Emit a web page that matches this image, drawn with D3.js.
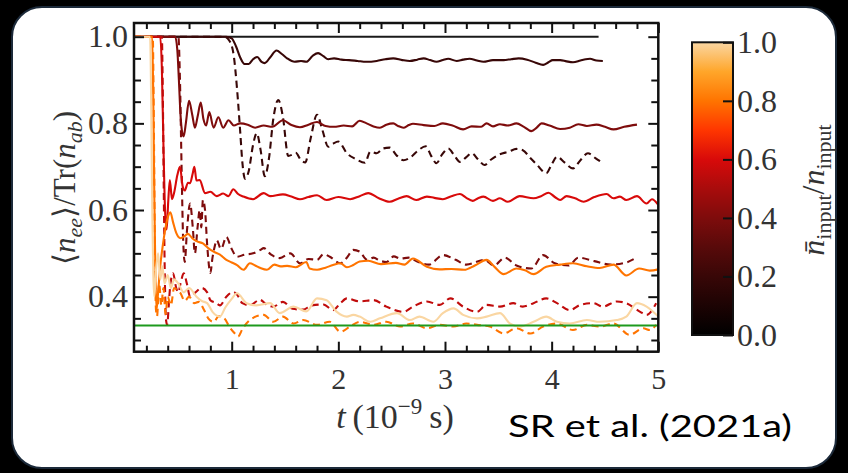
<!DOCTYPE html>
<html>
<head>
<meta charset="utf-8">
<script src="https://cdn.jsdelivr.net/npm/d3@7"></script>
<style>
  html, body { margin: 0; padding: 0; background: #000; }
  svg { display: block; }
</style>
</head>
<body>
<svg id="chart" width="848" height="473"></svg>
<script>
// ---------------------------------------------------------------
// Data: time t (in 1e-9 s) and normalised occupation <n_ee>/Tr(n_ab)
// Each run is labelled by its input ratio (colour-bar value).
// ---------------------------------------------------------------
const ratio0Solid = [[0.084, 1.0], [4.44, 1.0]];

const ratio02Solid = [
  [0.084, 1], [0.95, 1], [1.0, 0.996], [1.04, 0.978], [1.08, 0.952], [1.12, 0.937], [1.16, 0.937],
  [1.2, 0.948], [1.24, 0.953], [1.28, 0.942], [1.31, 0.939], [1.36, 0.952], [1.42, 0.968], [1.47, 0.96],
  [1.52, 0.95], [1.59, 0.942], [1.65, 0.944], [1.7, 0.942], [1.76, 0.956], [1.81, 0.962], [1.86, 0.955],
  [1.905, 0.948], [1.96, 0.95], [2.03, 0.947], [2.1, 0.946], [2.18, 0.944], [2.26, 0.942], [2.36, 0.944],
  [2.44, 0.948], [2.515, 0.95], [2.6, 0.946], [2.67, 0.944], [2.74, 0.947], [2.8, 0.95], [2.86, 0.946],
  [2.92, 0.942], [2.98, 0.946], [3.03, 0.949], [3.11, 0.944], [3.17, 0.947], [3.23, 0.949], [3.3, 0.945],
  [3.36, 0.942], [3.45, 0.946], [3.55, 0.946], [3.62, 0.948], [3.69, 0.95], [3.77, 0.947], [3.85, 0.94],
  [3.92, 0.935], [3.97, 0.941], [4.01, 0.946], [4.08, 0.946], [4.14, 0.943], [4.2, 0.941], [4.27, 0.945],
  [4.32, 0.948], [4.36, 0.949], [4.42, 0.945], [4.48, 0.944]
];

const ratio02Dashed = [
  [0.084, 1], [0.93, 1], [0.98, 0.99], [1.02, 0.955], [1.05, 0.88], [1.08, 0.78], [1.1, 0.71],
  [1.125, 0.672], [1.16, 0.69], [1.2, 0.75], [1.235, 0.777], [1.27, 0.74], [1.31, 0.678], [1.35, 0.72],
  [1.39, 0.81], [1.437, 0.854], [1.48, 0.815], [1.53, 0.725], [1.57, 0.728], [1.6, 0.732], [1.65, 0.715],
  [1.69, 0.71], [1.74, 0.765], [1.8, 0.82], [1.85, 0.785], [1.905, 0.746], [1.95, 0.753], [2.0, 0.758],
  [2.08, 0.731], [2.16, 0.718], [2.25, 0.709], [2.3, 0.735], [2.36, 0.731], [2.42, 0.742], [2.48, 0.744],
  [2.55, 0.725], [2.61, 0.715], [2.68, 0.722], [2.75, 0.738], [2.82, 0.747], [2.87, 0.725], [2.92, 0.708],
  [2.97, 0.727], [3.03, 0.742], [3.09, 0.725], [3.14, 0.711], [3.2, 0.722], [3.25, 0.731], [3.31, 0.717],
  [3.37, 0.704], [3.43, 0.716], [3.5, 0.727], [3.6, 0.735], [3.67, 0.741], [3.73, 0.738], [3.8, 0.72],
  [3.86, 0.705], [3.95, 0.685], [4.0, 0.705], [4.05, 0.723], [4.12, 0.71], [4.2, 0.696], [4.27, 0.715],
  [4.34, 0.731], [4.41, 0.72], [4.48, 0.708]
];

const ratio04Solid = [
  [0.084, 1], [0.47, 1], [0.49, 0.97], [0.505, 0.9], [0.52, 0.82], [0.535, 0.78], [0.55, 0.77],
  [0.57, 0.8], [0.6, 0.852], [0.63, 0.82], [0.655, 0.79], [0.68, 0.815], [0.71, 0.848], [0.735, 0.81],
  [0.76, 0.795], [0.79, 0.826], [0.83, 0.79], [0.875, 0.814], [0.92, 0.79], [0.97, 0.807], [1.02, 0.795],
  [1.08, 0.8], [1.15, 0.797], [1.22, 0.79], [1.3, 0.795], [1.38, 0.792], [1.48, 0.807], [1.56, 0.796],
  [1.64, 0.791], [1.72, 0.797], [1.8, 0.803], [1.88, 0.794], [1.96, 0.792], [2.05, 0.795], [2.13, 0.793],
  [2.2, 0.806], [2.265, 0.8], [2.33, 0.793], [2.39, 0.79], [2.45, 0.797], [2.515, 0.8], [2.56, 0.794],
  [2.61, 0.79], [2.66, 0.796], [2.7, 0.799], [2.8, 0.796], [2.9, 0.794], [2.98, 0.8], [3.07, 0.795],
  [3.17, 0.786], [3.25, 0.793], [3.34, 0.792], [3.39, 0.8], [3.45, 0.793], [3.515, 0.798], [3.59, 0.795],
  [3.67, 0.8], [3.74, 0.792], [3.81, 0.782], [3.86, 0.79], [3.905, 0.8], [3.98, 0.795], [4.08, 0.787],
  [4.17, 0.79], [4.25, 0.798], [4.33, 0.794], [4.42, 0.797], [4.5, 0.792], [4.58, 0.786], [4.68, 0.792],
  [4.8, 0.797]
];

const ratio04Dashed = [
  [0.084, 1], [0.5, 1], [0.515, 0.9], [0.53, 0.7], [0.545, 0.53], [0.56, 0.48], [0.58, 0.55],
  [0.61, 0.615], [0.635, 0.56], [0.655, 0.5], [0.68, 0.56], [0.7, 0.6], [0.715, 0.56], [0.73, 0.623],
  [0.75, 0.6], [0.77, 0.52], [0.8, 0.455], [0.82, 0.49], [0.84, 0.515], [0.86, 0.53], [0.9, 0.51],
  [0.95, 0.538], [1.0, 0.51], [1.05, 0.492], [1.12, 0.497], [1.2, 0.5], [1.27, 0.508], [1.3, 0.512],
  [1.37, 0.497], [1.45, 0.489], [1.55, 0.5], [1.64, 0.477], [1.72, 0.487], [1.8, 0.485], [1.86, 0.498],
  [1.92, 0.492], [2.02, 0.477], [2.08, 0.49], [2.14, 0.508], [2.2, 0.504], [2.27, 0.485], [2.33, 0.49],
  [2.39, 0.483], [2.45, 0.48], [2.52, 0.493], [2.58, 0.488], [2.66, 0.49], [2.75, 0.48], [2.85, 0.474],
  [2.98, 0.496], [3.1, 0.485], [3.2, 0.474], [3.37, 0.485], [3.46, 0.472], [3.56, 0.49], [3.67, 0.472],
  [3.81, 0.465], [3.92, 0.496], [4.03, 0.477], [4.16, 0.472], [4.25, 0.49], [4.4, 0.482], [4.55, 0.474],
  [4.7, 0.479], [4.78, 0.488]
];

const ratio06Solid = [
  [0.084, 1], [0.33, 1], [0.345, 0.93], [0.36, 0.75], [0.375, 0.6], [0.39, 0.555], [0.405, 0.62],
  [0.42, 0.669], [0.44, 0.625], [0.46, 0.64], [0.49, 0.68], [0.515, 0.7], [0.54, 0.655], [0.56, 0.645],
  [0.59, 0.663], [0.61, 0.662], [0.635, 0.685], [0.65, 0.7], [0.67, 0.668], [0.7, 0.669], [0.75, 0.639],
  [0.8, 0.642], [0.86, 0.632], [0.92, 0.638], [0.97, 0.632], [1.015, 0.648], [1.06, 0.637], [1.11, 0.631],
  [1.2, 0.625], [1.3, 0.639], [1.36, 0.632], [1.48, 0.636], [1.56, 0.631], [1.64, 0.625], [1.72, 0.63],
  [1.8, 0.634], [1.89, 0.623], [2.0, 0.63], [2.11, 0.625], [2.2, 0.632], [2.28, 0.639], [2.38, 0.627],
  [2.48, 0.619], [2.56, 0.626], [2.64, 0.632], [2.73, 0.623], [2.83, 0.631], [2.9, 0.628], [2.98, 0.625],
  [3.06, 0.632], [3.14, 0.637], [3.2, 0.628], [3.26, 0.621], [3.31, 0.627], [3.36, 0.631], [3.45, 0.621],
  [3.515, 0.627], [3.59, 0.619], [3.7, 0.632], [3.83, 0.627], [3.9, 0.632], [3.97, 0.64], [4.03, 0.63],
  [4.08, 0.623], [4.14, 0.632], [4.22, 0.627], [4.3, 0.619], [4.4, 0.63], [4.515, 0.637], [4.58, 0.627],
  [4.64, 0.631], [4.7, 0.623], [4.8, 0.632], [4.89, 0.615], [4.94, 0.625], [5.0, 0.612]
];

const ratio06Dashed = [
  [0.084, 1], [0.345, 1], [0.355, 0.85], [0.365, 0.6], [0.375, 0.42], [0.385, 0.345], [0.395, 0.335],
  [0.41, 0.38], [0.42, 0.415], [0.45, 0.454], [0.48, 0.42], [0.5, 0.41], [0.52, 0.43], [0.55, 0.454],
  [0.58, 0.43], [0.61, 0.4], [0.66, 0.41], [0.72, 0.42], [0.77, 0.41], [0.8, 0.392], [0.85, 0.386],
  [0.89, 0.38], [0.95, 0.4], [1.015, 0.411], [1.05, 0.405], [1.1, 0.385], [1.17, 0.38], [1.265, 0.393],
  [1.32, 0.383], [1.39, 0.377], [1.48, 0.388], [1.57, 0.372], [1.67, 0.37], [1.75, 0.38], [1.86, 0.382],
  [1.95, 0.369], [2.02, 0.385], [2.08, 0.396], [2.2, 0.389], [2.33, 0.392], [2.45, 0.377], [2.61, 0.365],
  [2.7, 0.377], [2.83, 0.389], [2.95, 0.381], [3.05, 0.396], [3.17, 0.377], [3.3, 0.365], [3.39, 0.381],
  [3.515, 0.377], [3.64, 0.385], [3.73, 0.377], [3.83, 0.385], [3.95, 0.396], [4.05, 0.385], [4.17, 0.369],
  [4.27, 0.381], [4.39, 0.385], [4.48, 0.377], [4.61, 0.389], [4.7, 0.385], [4.83, 0.365], [4.89, 0.358],
  [4.98, 0.385]
];

const ratio08Solid = [
  [0.084, 1], [0.255, 1], [0.265, 0.85], [0.275, 0.62], [0.285, 0.45], [0.295, 0.37], [0.31, 0.41],
  [0.33, 0.47], [0.355, 0.52], [0.38, 0.56], [0.41, 0.59], [0.425, 0.595], [0.45, 0.572], [0.48, 0.547],
  [0.52, 0.535], [0.56, 0.54], [0.59, 0.545], [0.63, 0.535], [0.68, 0.527], [0.73, 0.523], [0.78, 0.512],
  [0.83, 0.504], [0.89, 0.497], [0.95, 0.485], [1.0, 0.479], [1.05, 0.473], [1.11, 0.462], [1.17, 0.477],
  [1.22, 0.472], [1.27, 0.466], [1.33, 0.462], [1.4, 0.474], [1.46, 0.47], [1.52, 0.471], [1.6, 0.468],
  [1.7, 0.48], [1.73, 0.465], [1.8, 0.462], [1.88, 0.467], [1.95, 0.473], [2.02, 0.477], [2.08, 0.468],
  [2.14, 0.473], [2.2, 0.481], [2.28, 0.483], [2.4, 0.475], [2.54, 0.478], [2.62, 0.474], [2.7, 0.488],
  [2.83, 0.469], [2.95, 0.463], [3.06, 0.464], [3.18, 0.462], [3.28, 0.472], [3.39, 0.485], [3.46, 0.47],
  [3.55, 0.452], [3.67, 0.465], [3.75, 0.461], [3.83, 0.452], [3.95, 0.469], [4.08, 0.474], [4.2, 0.477],
  [4.33, 0.47], [4.45, 0.466], [4.58, 0.474], [4.7, 0.449], [4.82, 0.465], [4.92, 0.46], [5.0, 0.463]
];

const ratio08Dashed = [
  [0.084, 1], [0.26, 1], [0.27, 0.8], [0.28, 0.5], [0.29, 0.37], [0.3, 0.355], [0.32, 0.43],
  [0.34, 0.38], [0.36, 0.42], [0.38, 0.36], [0.4, 0.4], [0.43, 0.38], [0.46, 0.42], [0.49, 0.415],
  [0.52, 0.408], [0.56, 0.39], [0.6, 0.4], [0.65, 0.385], [0.69, 0.388], [0.74, 0.37], [0.78, 0.35],
  [0.83, 0.342], [0.88, 0.355], [0.93, 0.35], [0.98, 0.33], [1.03, 0.315], [1.06, 0.308], [1.1, 0.325],
  [1.17, 0.346], [1.3, 0.358], [1.39, 0.342], [1.48, 0.354], [1.58, 0.338], [1.67, 0.346], [1.8, 0.335],
  [1.92, 0.342], [2.02, 0.319], [2.11, 0.331], [2.2, 0.342], [2.33, 0.335], [2.45, 0.342], [2.58, 0.331],
  [2.7, 0.338], [2.83, 0.327], [2.95, 0.335], [3.08, 0.331], [3.2, 0.338], [3.3, 0.335], [3.42, 0.331],
  [3.55, 0.315], [3.67, 0.327], [3.8, 0.315], [3.92, 0.331], [4.05, 0.338], [4.2, 0.323], [4.33, 0.335],
  [4.45, 0.331], [4.58, 0.338], [4.73, 0.312], [4.86, 0.327], [4.92, 0.323], [4.98, 0.335]
];

const ratio10Solid = [
  [0.084, 1], [0.235, 1], [0.245, 0.85], [0.255, 0.6], [0.265, 0.45], [0.275, 0.4], [0.29, 0.46],
  [0.31, 0.5], [0.33, 0.44], [0.35, 0.47], [0.37, 0.43], [0.4, 0.45], [0.43, 0.42], [0.46, 0.44],
  [0.5, 0.43], [0.55, 0.41], [0.6, 0.42], [0.67, 0.4], [0.72, 0.39], [0.77, 0.385], [0.82, 0.365],
  [0.89, 0.354], [0.94, 0.375], [1.0, 0.395], [1.05, 0.408], [1.14, 0.385], [1.23, 0.38], [1.36, 0.385],
  [1.45, 0.362], [1.58, 0.377], [1.7, 0.366], [1.8, 0.396], [1.89, 0.392], [1.98, 0.366], [2.08, 0.354],
  [2.14, 0.358], [2.2, 0.354], [2.3, 0.342], [2.39, 0.35], [2.55, 0.362], [2.67, 0.346], [2.76, 0.354],
  [2.89, 0.342], [2.98, 0.362], [3.08, 0.373], [3.17, 0.358], [3.3, 0.35], [3.39, 0.354], [3.515, 0.362],
  [3.61, 0.338], [3.7, 0.331], [3.83, 0.342], [3.95, 0.354], [4.05, 0.342], [4.17, 0.338], [4.33, 0.346],
  [4.45, 0.342], [4.61, 0.346], [4.7, 0.354], [4.8, 0.385], [4.89, 0.377], [5.0, 0.354]
];

// Reference level at one third
const thirdLevel = [[0.084, 0.3333], [5.0, 0.3333]];

// Runs in drawing order, with their colour-bar ratio and line type
const runs = [ratio0Solid, ratio02Dashed, ratio02Solid, ratio04Solid, ratio04Dashed, ratio06Solid,
              ratio06Dashed, ratio08Solid, ratio08Dashed, ratio10Solid];
const runRatios = [0.0, 0.2, 0.2, 0.4, 0.4, 0.6, 0.55, 0.8, 0.8, 1.0];
const runDashed = [false, true, false, false, true, false, true, false, true, false];

// Axis ticks
const xMajorTicks = [1, 2, 3, 4, 5];
const xMinorTicks = [0.2, 0.4, 0.6, 0.8, 1.2, 1.4, 1.6, 1.8, 2.2, 2.4, 2.6, 2.8, 3.2, 3.4, 3.6, 3.8,
                     4.2, 4.4, 4.6, 4.8];
const yMajorTicks = [0.4, 0.6, 0.8, 1.0];
const yMinorTicks = [0.3, 0.35, 0.45, 0.5, 0.55, 0.65, 0.7, 0.75, 0.85, 0.9, 0.95];
const cbarTicks = [0.0, 0.2, 0.4, 0.6, 0.8, 1.0];

// Colour map (value -> colour)
const cmapStops = [0, 0.1, 0.2, 0.3, 0.4, 0.5, 0.6, 0.7, 0.8, 0.9, 1.0];
const cmapColors = ["#000000", "#1c0303", "#380707", "#580a0a", "#7e0c0c", "#a80c0c", "#d80a0a",
                    "#ff3600", "#ff7400", "#ffa62a", "#fad6a2"];

// ---------------------------------------------------------------
const svg = d3.select("#chart");
const SERIF = "'Liberation Serif', 'DejaVu Serif', 'Times New Roman', serif";
const textCol = "#333";

function serifText(sel, size) {
  return sel.style("font-family", SERIF).style("font-size", size + "px").style("fill", textCol);
}

// white card
svg.append("rect")
  .attr("x", 12).attr("y", 7).attr("width", 824).attr("height", 461).attr("rx", 30)
  .attr("fill", "#fff").attr("stroke", "#1c2a3a").attr("stroke-width", 2);

const cmap = d3.scaleLinear().domain(cmapStops).range(cmapColors).interpolate(d3.interpolateRgb);

const plot = { left: 134, right: 658.3, top: 23, bottom: 351.7 };
const x = d3.scaleLinear().domain([0.084, 5]).range([plot.left, plot.right]);
const y = d3.scaleLinear().domain([0.273, 1.0316]).range([plot.bottom, plot.top]);

const defs = svg.append("defs");
defs.append("clipPath").attr("id", "plotClip").append("rect")
  .attr("x", plot.left).attr("y", plot.top)
  .attr("width", plot.right - plot.left).attr("height", plot.bottom - plot.top);

const line = d3.line().x(d => x(d[0])).y(d => y(d[1])).curve(d3.curveMonotoneX);

const lines = svg.append("g").attr("clip-path", "url(#plotClip)");
runs.forEach((run, i) => {
  lines.append("path")
    .datum(run)
    .attr("d", line)
    .attr("fill", "none")
    .attr("stroke", runRatios[i] === 0 ? "#1a1a1a" : cmap(runRatios[i]))
    .attr("stroke-width", 2.1)
    .attr("stroke-linejoin", "round")
    .attr("stroke-dasharray", runDashed[i] ? "7,4.5" : null);
});
lines.append("path")
  .datum(thirdLevel)
  .attr("d", line)
  .attr("fill", "none")
  .attr("stroke", "#1e9a1e")
  .attr("stroke-width", 2);

// axes (inward ticks on all four sides)
function styleAxis(g, size) {
  g.select(".domain").remove();
  g.selectAll(".tick line").attr("stroke", "#111").attr("stroke-width", 2);
  serifText(g.selectAll("text"), size || 30);
}
svg.append("g").attr("transform", `translate(0,${plot.bottom})`)
  .call(d3.axisBottom(x).tickValues(xMajorTicks).tickSize(-10).tickSizeOuter(0).tickPadding(16)
        .tickFormat(d3.format("d")))
  .call(styleAxis, 30);
svg.append("g").attr("transform", `translate(0,${plot.bottom})`)
  .call(d3.axisBottom(x).tickValues(xMinorTicks).tickSize(-6).tickSizeOuter(0).tickFormat(""))
  .call(styleAxis);
svg.append("g").attr("transform", `translate(0,${plot.top})`)
  .call(d3.axisTop(x).tickValues(xMajorTicks).tickSize(-10).tickSizeOuter(0).tickFormat(""))
  .call(styleAxis);
svg.append("g").attr("transform", `translate(0,${plot.top})`)
  .call(d3.axisTop(x).tickValues(xMinorTicks).tickSize(-6).tickSizeOuter(0).tickFormat(""))
  .call(styleAxis);

svg.append("g").attr("transform", `translate(${plot.left},0)`)
  .call(d3.axisLeft(y).tickValues(yMajorTicks).tickSize(-10).tickSizeOuter(0).tickPadding(6)
        .tickFormat(d3.format(".1f")))
  .call(styleAxis, 32);
svg.append("g").attr("transform", `translate(${plot.left},0)`)
  .call(d3.axisLeft(y).tickValues(yMinorTicks).tickSize(-7).tickSizeOuter(0).tickFormat(""))
  .call(styleAxis);
svg.append("g").attr("transform", `translate(${plot.right},0)`)
  .call(d3.axisRight(y).tickValues(yMajorTicks).tickSize(-10).tickSizeOuter(0).tickFormat(""))
  .call(styleAxis);
svg.append("g").attr("transform", `translate(${plot.right},0)`)
  .call(d3.axisRight(y).tickValues(yMinorTicks).tickSize(-7).tickSizeOuter(0).tickFormat(""))
  .call(styleAxis);

svg.append("rect")
  .attr("x", plot.left).attr("y", plot.top)
  .attr("width", plot.right - plot.left).attr("height", plot.bottom - plot.top)
  .attr("fill", "none").attr("stroke", "#111").attr("stroke-width", 2.5);

// axis titles
const xTitle = serifText(svg.append("text"), 34)
  .attr("x", 395).attr("y", 428).attr("text-anchor", "middle");
xTitle.append("tspan").style("font-style", "italic").text("t");
xTitle.append("tspan").text("\u2009(10");
xTitle.append("tspan").style("font-size", "23px").attr("dy", -14).text("\u22129");
xTitle.append("tspan").attr("dy", 14).text("\u2009s)");

const yTitle = serifText(svg.append("text"), 31)
  .attr("transform", "translate(75,188) rotate(-90)")
  .attr("text-anchor", "middle");
yTitle.append("tspan").text("\u27e8");
yTitle.append("tspan").style("font-style", "italic").text("n");
yTitle.append("tspan").style("font-style", "italic").style("font-size", "22px").attr("dy", 7).text("ee");
yTitle.append("tspan").attr("dy", -7).text("\u27e9/Tr(");
yTitle.append("tspan").style("font-style", "italic").text("n");
yTitle.append("tspan").style("font-style", "italic").style("font-size", "22px").attr("dy", 7).text("ab");
yTitle.append("tspan").attr("dy", -7).text(")");

// colour bar
const cb = { x: 692, width: 41, top: 42.3, bottom: 335 };
const cbScale = d3.scaleLinear().domain([0, 1]).range([cb.bottom, cb.top]);
const grad = defs.append("linearGradient").attr("id", "cbarGrad")
  .attr("x1", 0).attr("y1", 1).attr("x2", 0).attr("y2", 0);
cmapStops.forEach((v, i) => {
  grad.append("stop").attr("offset", v).attr("stop-color", cmapColors[i]);
});
svg.append("rect")
  .attr("x", cb.x).attr("y", cb.top).attr("width", cb.width).attr("height", cb.bottom - cb.top)
  .attr("fill", "url(#cbarGrad)").attr("stroke", "#111").attr("stroke-width", 2);
svg.append("g").attr("transform", `translate(${cb.x + cb.width},0)`)
  .call(d3.axisRight(cbScale).tickValues(cbarTicks).tickSize(-10).tickSizeOuter(0).tickPadding(4)
        .tickFormat(d3.format(".1f")))
  .call(styleAxis, 32);

const cbTitle = serifText(svg.append("text"), 32)
  .attr("transform", "translate(824,190) rotate(-90)")
  .attr("text-anchor", "middle");
cbTitle.append("tspan").style("font-style", "italic").text("n\u0304");
cbTitle.append("tspan").style("font-size", "22px").attr("dy", 7).text("input");
cbTitle.append("tspan").attr("dy", -7).text("/");
cbTitle.append("tspan").style("font-style", "italic").text("n");
cbTitle.append("tspan").style("font-size", "22px").attr("dy", 7).text("input");

// citation
svg.append("text")
  .attr("x", 508).attr("y", 437)
  .style("font-family", "Lato, 'Open Sans', sans-serif").style("font-size", "31px").style("fill", "#000")
  .attr("textLength", 284).attr("lengthAdjust", "spacingAndGlyphs")
  .text("SR et al. (2021a)");
</script>
</body>
</html>
